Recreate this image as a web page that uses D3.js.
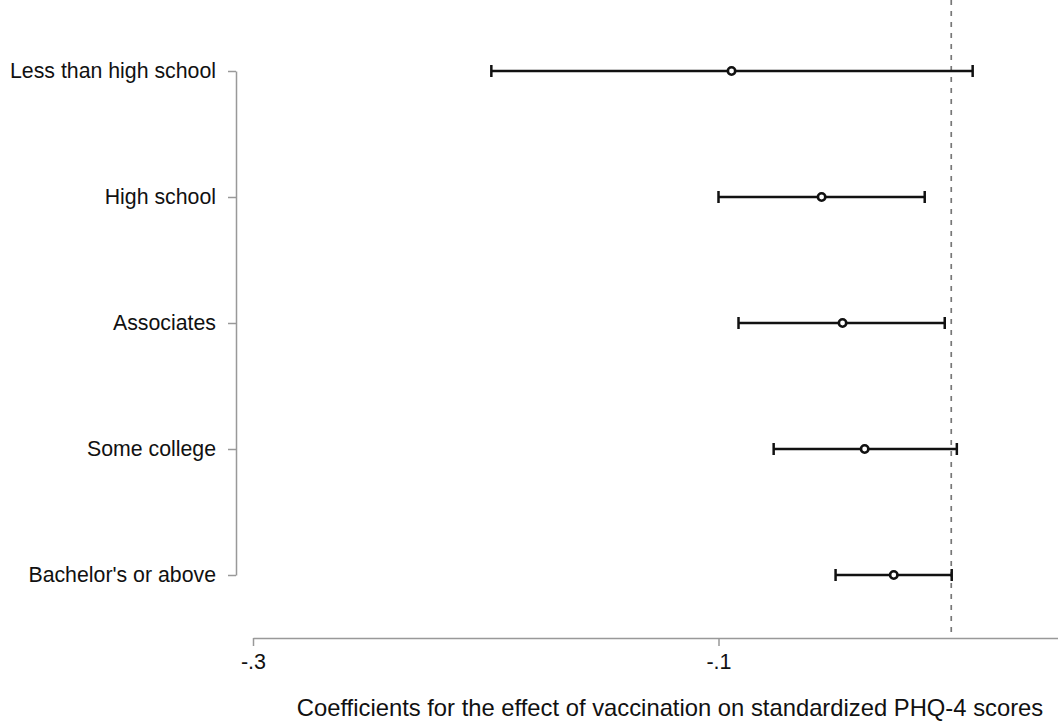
<!DOCTYPE html>
<html>
<head>
<meta charset="utf-8">
<script src="https://cdn.jsdelivr.net/npm/d3@7"></script>
<style>
  body { margin: 0; background: #fff; }
  text { font-family: "Liberation Sans", Arial, sans-serif; }
</style>
</head>
<body>
<div class="app"></div>
<script>
// education groups, top to bottom
const groups = ['Less than high school', 'High school', 'Associates', 'Some college', "Bachelor's or above"]
const estimates = [-0.0944, -0.0557, -0.0467, -0.0372, -0.0247]
const lower = [-0.1976, -0.1000, -0.0914, -0.0763, -0.0497]
const upper = [0.0092, -0.0114, -0.0028, 0.0024, 0.0002]
const xTicks = [-0.3, -0.1]
const xTickLabels = ['-.3', '-.1']

const width = 1058
const height = 724

const svg = d3.select('.app').append('svg').attr('width', width).attr('height', height)

const x = d3.scaleLinear().domain([-0.3, 0.1]).range([253, 1184])
const y = d3.scalePoint().domain(groups).range([71, 575])

const rows = groups.map((g, i) => ({ g, est: estimates[i], lo: lower[i], hi: upper[i] }))

// x axis (runs off the right edge, as in the original)
const xAxis = svg.append('g')
  .attr('transform', 'translate(0,638)')
  .call(d3.axisBottom(x).tickValues(xTicks).tickFormat((d, i) => xTickLabels[i]).tickSize(8).tickSizeOuter(0))
xAxis.select('.domain').attr('stroke', '#999').attr('stroke-width', 1.5)
xAxis.selectAll('.tick line').attr('stroke', '#999').attr('stroke-width', 1.5)
xAxis.selectAll('.tick text').attr('font-size', 21.5).attr('fill', '#111').attr('dy', '0.95em')

// y axis
const yAxis = svg.append('g')
  .attr('transform', 'translate(236,0)')
  .call(d3.axisLeft(y).tickSize(8).tickSizeOuter(0).tickPadding(12))
yAxis.select('.domain').attr('stroke', '#999').attr('stroke-width', 1.5)
yAxis.selectAll('.tick line').attr('stroke', '#999').attr('stroke-width', 1.5)
yAxis.selectAll('.tick text').attr('font-size', 21.3).attr('fill', '#111')

// reference line at zero
svg.append('line')
  .attr('x1', x(0)).attr('x2', x(0))
  .attr('y1', 0).attr('y2', 638)
  .attr('stroke', '#777')
  .attr('stroke-width', 1.7)
  .attr('stroke-dasharray', '5,6')

// error bars
const bars = svg.append('g').selectAll('g').data(rows).enter().append('g')

bars.append('line')
  .attr('x1', d => x(d.lo)).attr('x2', d => x(d.hi))
  .attr('y1', d => y(d.g)).attr('y2', d => y(d.g))
  .attr('stroke', '#111').attr('stroke-width', 2.5)

bars.selectAll('.cap').data(d => [d.lo, d.hi].map(v => ({ v, g: d.g }))).enter().append('line')
  .attr('class', 'cap')
  .attr('x1', d => x(d.v)).attr('x2', d => x(d.v))
  .attr('y1', d => y(d.g) - 6).attr('y2', d => y(d.g) + 6)
  .attr('stroke', '#111').attr('stroke-width', 2.5)

bars.append('circle')
  .attr('cx', d => x(d.est)).attr('cy', d => y(d.g))
  .attr('r', 3.7)
  .attr('fill', '#fff').attr('stroke', '#111').attr('stroke-width', 2.6)

// axis title
svg.append('text')
  .attr('x', 670).attr('y', 716)
  .attr('text-anchor', 'middle')
  .attr('font-size', 23.8)
  .attr('fill', '#111')
  .text('Coefficients for the effect of vaccination on standardized PHQ-4 scores')
</script>
</body>
</html>
